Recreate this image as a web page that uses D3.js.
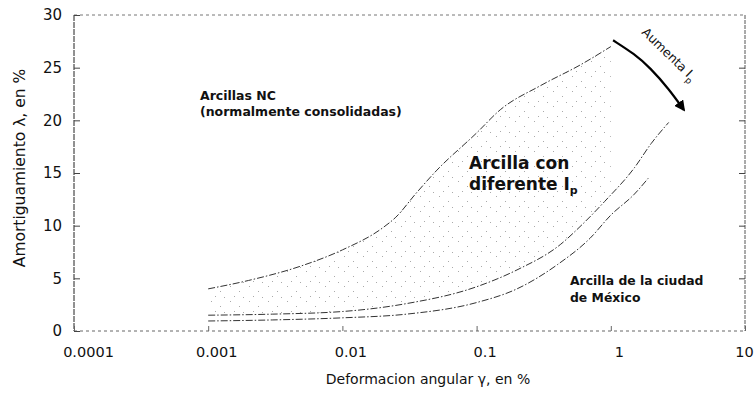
<!DOCTYPE html>
<html>
<head>
<meta charset="utf-8">
<script src="https://cdn.jsdelivr.net/npm/d3@7"></script>
<style>
  body { margin: 0; background: #fff; }
  svg { display: block; font-family: "DejaVu Sans", sans-serif; }
  .curve { fill: none; stroke: #333; stroke-width: 1; stroke-dasharray: 7,2,1.5,2; }
  .lbl { font-weight: bold; fill: #111; }
</style>
</head>
<body>
<svg id="chart" width="756" height="393"></svg>
<script>
// upper bound, NC clays
var topX = [0.001, 0.002, 0.005, 0.01, 0.02, 0.025, 0.035, 0.05, 0.1, 0.15, 0.3, 0.6, 1];
var topY = [4, 4.8, 6.2, 7.7, 9.8, 10.8, 13, 15.2, 18.8, 21, 23.3, 25.3, 27];
// lower bound of the shaded band
var midX = [0.001, 0.003, 0.01, 0.03, 0.1, 0.2, 0.42, 0.6, 0.9, 1.5, 2, 2.7];
var midY = [1.5, 1.6, 1.85, 2.6, 4.2, 5.8, 8.2, 10, 12.3, 15.5, 17.8, 19.8];
// Mexico city clay
var mexX = [0.001, 0.003, 0.01, 0.03, 0.1, 0.2, 0.4, 0.7, 1, 1.5, 1.9];
var mexY = [0.95, 1.05, 1.25, 1.6, 2.7, 4.0, 6.3, 8.8, 11, 13, 14.5];

var xTicks = [0.0001, 0.001, 0.01, 0.1, 1, 10];
var xTickLabels = ["0.0001", "0.001", "0.01", "0.1", "1", "10"];
var yTicks = [0, 5, 10, 15, 20, 25, 30];

// arrow "Aumenta Ip"
var arrowX = [1.04, 1.5, 1.96, 2.7, 3.5];
var arrowY = [27.6, 26.3, 25, 23, 21];

var svg = d3.select("#chart");
var x = d3.scaleLog().domain([0.0001, 10]).range([74, 745]);
var y = d3.scaleLinear().domain([0, 30]).range([331, 15]);

var defs = svg.append("defs");
var pat = defs.append("pattern").attr("id", "stip")
  .attr("patternUnits", "userSpaceOnUse").attr("width", 19).attr("height", 15);
[[2, 1], [11, 6], [6, 11], [15, 12]].forEach(function(p){
  pat.append("rect").attr("x", p[0]).attr("y", p[1]).attr("width", 1).attr("height", 1).attr("fill", "#aaa");
});
defs.append("marker").attr("id", "head").attr("viewBox", "0 0 10 10")
  .attr("refX", 8).attr("refY", 5).attr("markerWidth", 5).attr("markerHeight", 5)
  .attr("orient", "auto").append("path").attr("d", "M0,0 L10,5 L0,10 z").attr("fill", "#000");

function pts(xs, ys){ return xs.map(function(v, i){ return [v, ys[i]]; }); }

// shaded band between top and mid curves
var midInterp = d3.scaleLog().domain(midX).range(midY);
var band = topX.map(function(v, i){ return {x: v, y1: topY[i], y0: midInterp(v)}; });
svg.append("path").datum(band)
  .attr("fill", "url(#stip)")
  .attr("d", d3.area().curve(d3.curveMonotoneX)
    .x(function(d){ return x(d.x); }).y0(function(d){ return y(d.y0); }).y1(function(d){ return y(d.y1); }));

// frame
svg.append("line").attr("x1", x(0.0001)).attr("x2", x(10)).attr("y1", y(30)).attr("y2", y(30))
  .attr("stroke", "#777").attr("stroke-dasharray", "3,3");
svg.append("line").attr("x1", x(10)).attr("x2", x(10)).attr("y1", y(30)).attr("y2", y(0))
  .attr("stroke", "#555").attr("stroke-dasharray", "4,1");
svg.append("line").attr("x1", x(0.0001)).attr("x2", x(10)).attr("y1", y(0)).attr("y2", y(0))
  .attr("stroke", "#666").attr("stroke-dasharray", "3,3");
svg.append("line").attr("x1", x(0.0001)).attr("x2", x(0.0001)).attr("y1", y(30)).attr("y2", y(0))
  .attr("stroke", "#222").attr("stroke-dasharray", "6,1");

// y axis
var yAxis = d3.axisLeft(y).tickValues(yTicks).tickSize(-6).tickPadding(12);
var gy = svg.append("g").attr("transform", "translate(" + x(0.0001) + ",0)").call(yAxis);
gy.select(".domain").remove();
gy.selectAll("line").attr("stroke", "#444");
gy.selectAll("text").attr("font-size", 15).attr("fill", "#111").attr("font-family", "DejaVu Sans");
var gy2 = svg.append("g").attr("transform", "translate(" + x(10) + ",0)")
  .call(d3.axisRight(y).tickValues(yTicks.slice(1, 6)).tickSize(-6).tickFormat(""));
gy2.select(".domain").remove();
gy2.selectAll("line").attr("stroke", "#444");

// x axis
var xAxis = d3.axisBottom(x).tickValues(xTicks).tickSize(-5).tickPadding(16)
  .tickFormat(function(d, i){ return xTickLabels[i]; });
var gx = svg.append("g").attr("transform", "translate(0," + y(0) + ")").call(xAxis);
gx.select(".domain").remove();
gx.selectAll("line").attr("stroke", "#666");
gx.selectAll("text").attr("font-size", 14.5).attr("fill", "#111").attr("font-family", "DejaVu Sans")
  .attr("dx", function(d, i){ return i === xTicks.length - 1 ? -1 : (i === 0 ? 14 : 8); });

// curves
var line = d3.line().curve(d3.curveMonotoneX)
  .x(function(d){ return x(d[0]); }).y(function(d){ return y(d[1]); });
[pts(topX, topY), pts(midX, midY), pts(mexX, mexY)].forEach(function(p){
  svg.append("path").datum(p).attr("class", "curve").attr("d", line);
});

// arrow
svg.append("path").datum(pts(arrowX, arrowY))
  .attr("fill", "none").attr("stroke", "#000").attr("stroke-width", 2.2)
  .attr("marker-end", "url(#head)")
  .attr("d", d3.line().curve(d3.curveBasis).x(function(d){ return x(d[0]); }).y(function(d){ return y(d[1]); }));
var at = svg.append("text").attr("transform", "translate(641,33) rotate(44)")
  .attr("font-size", 12.5).attr("fill", "#111");
at.append("tspan").text("Aumenta I");
at.append("tspan").attr("font-size", 9).attr("dy", 4).text("p");

// titles
svg.append("text").attr("transform", "translate(25,168) rotate(-90)")
  .attr("text-anchor", "middle").attr("font-size", 15.5).attr("fill", "#111")
  .text("Amortiguamiento λ, en %");
svg.append("text").attr("x", 428).attr("y", 384).attr("text-anchor", "middle")
  .attr("font-size", 14).attr("fill", "#111").text("Deformacion angular γ, en %");

// labels
svg.append("text").attr("class", "lbl").attr("x", 200).attr("y", 100).attr("font-size", 12.5).text("Arcillas NC");
svg.append("text").attr("class", "lbl").attr("x", 200).attr("y", 116).attr("font-size", 12.5).text("(normalmente consolidadas)");
svg.append("text").attr("class", "lbl").attr("x", 469).attr("y", 169).attr("font-size", 17).text("Arcilla con");
var dl = svg.append("text").attr("class", "lbl").attr("x", 469).attr("y", 190).attr("font-size", 17);
dl.append("tspan").text("diferente I");
dl.append("tspan").attr("font-size", 11).attr("dy", 4).text("p");
svg.append("text").attr("class", "lbl").attr("x", 570).attr("y", 285).attr("font-size", 12.4).text("Arcilla de la ciudad");
svg.append("text").attr("class", "lbl").attr("x", 570).attr("y", 302).attr("font-size", 12.4).text("de México");
</script>
</body>
</html>
